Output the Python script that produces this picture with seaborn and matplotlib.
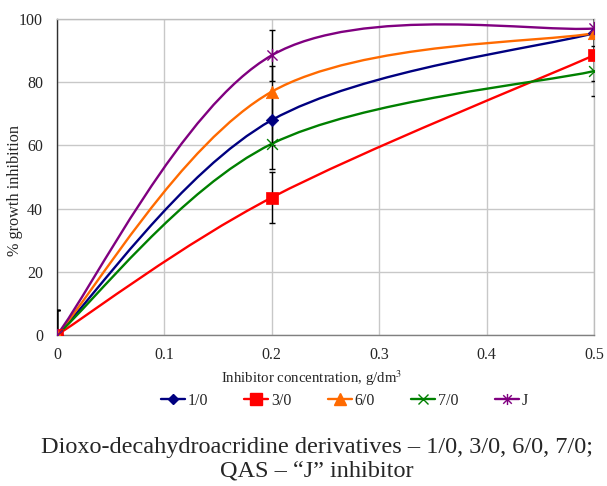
import numpy as np
import pandas as pd
import matplotlib
matplotlib.use("Agg")
import matplotlib.pyplot as plt
from matplotlib.path import Path
from matplotlib.patches import PathPatch
from matplotlib.lines import Line2D
import seaborn as sns

# ---- data ----
concentration = [0.0, 0.2, 0.5]
series_names = ["1/0", "3/0", "6/0", "7/0", "J"]
s_1_0 = [0.0, 68.0, 95.5]
s_3_0 = [0.0, 43.5, 88.5]
s_6_0 = [0.0, 77.0, 95.5]
s_7_0 = [0.0, 60.5, 83.5]
s_J = [0.0, 88.5, 97.0]
error = [8.0, 8.0, 8.0]
x_ticks = [0, 0.1, 0.2, 0.3, 0.4, 0.5]
x_tick_labels = ["0", "0.1", "0.2", "0.3", "0.4", "0.5"]
y_ticks = [0, 20, 40, 60, 80, 100]

values = {"1/0": s_1_0, "3/0": s_3_0, "6/0": s_6_0, "7/0": s_7_0, "J": s_J}
colors = {"1/0": "#000080", "3/0": "#FF0000", "6/0": "#FF6A00", "7/0": "#008000", "J": "#800080"}

star = Path([(-1, -1), (1, 1), (-1, 1), (1, -1), (0, -1.3), (0, 1.3)],
            [Path.MOVETO, Path.LINETO, Path.MOVETO, Path.LINETO, Path.MOVETO, Path.LINETO])
markers = {"1/0": "D", "3/0": "s", "6/0": "^", "7/0": "x", "J": star}
msizes = {"1/0": 40, "3/0": 80, "6/0": 80, "7/0": 60, "J": 90}

rows = []
for n in series_names:
    for x, y in zip(concentration, values[n]):
        rows.append({"series": n, "x": x, "y": y})
df = pd.DataFrame(rows)

sns.set_style("white")
plt.rcParams["font.family"] = ["Liberation Serif", "DejaVu Serif"]
plt.rcParams["mathtext.fontset"] = "stix"

fig = plt.figure(figsize=(6.07, 4.86), dpi=100)
ax = fig.add_axes([0.0939, 0.3107, 0.8847, 0.6503])


def smooth_path(xs, ys):
    pts = np.column_stack([xs, ys]).astype(float)
    n = len(pts)
    verts = [pts[0]]
    codes = [Path.MOVETO]
    for i in range(n - 1):
        p0 = pts[max(i - 1, 0)]
        p1 = pts[i]
        p2 = pts[i + 1]
        p3 = pts[min(i + 2, n - 1)]
        c1 = p1 + (p2 - p0) / 6.0
        c2 = p2 - (p3 - p1) / 6.0
        verts += [c1, c2, p2]
        codes += [Path.CURVE4] * 3
    return Path(verts, codes)


for n in series_names:
    sub = df[df.series == n]
    patch = PathPatch(smooth_path(sub.x.values, sub.y.values), facecolor="none",
                      edgecolor=colors[n], lw=1.7, zorder=3)
    ax.add_patch(patch)
    ax.errorbar(sub.x.values, sub.y.values, yerr=error, fmt="none", ecolor="black",
                elinewidth=1.0, capsize=2.3, capthick=1.0, zorder=4)

for n in series_names:
    sub = df[df.series == n]
    m = markers[n]
    lw = 1.0 if (m == "x" or m is star) else 0.5
    sns.scatterplot(data=sub, x="x", y="y", marker=m, s=msizes[n], color=colors[n],
                    edgecolor=colors[n], linewidth=lw, ax=ax, zorder=5, legend=False)

ax.set_xlim(0, 0.5)
ax.set_ylim(0, 100)
ax.set_xticks(x_ticks)
ax.set_xticklabels(x_tick_labels)
ax.set_yticks(y_ticks)
ax.tick_params(axis="both", labelsize=11.5, length=0)
ax.tick_params(axis="y", pad=10)
ax.tick_params(axis="x", pad=9)
ax.grid(True, color="#c8c8c8", lw=1.0)
ax.set_axisbelow(True)
for s in ["top", "right"]:
    ax.spines[s].set_color("#bdbdbd")
    ax.spines[s].set_linewidth(1.0)
ax.spines["left"].set_color("#303030")
ax.spines["bottom"].set_color("#808080")
ax.spines["left"].set_linewidth(1.0)
ax.spines["bottom"].set_linewidth(1.0)

ax.set_xlabel("Inhibitor concentration, g/dm$^3$", fontsize=10.7)
ax.set_ylabel("% growth inhibition", fontsize=11.7)
ax.xaxis.set_label_coords(0.475, -0.105)
ax.yaxis.set_label_coords(-0.063, 0.456)

handles = []
for n in series_names:
    m = markers[n]
    ms = {"1/0": 5, "3/0": 8, "6/0": 8, "7/0": 7, "J": 8}[n]
    handles.append(Line2D([0], [0], color=colors[n], lw=1.7, marker=m, markersize=ms,
                          markerfacecolor=colors[n], markeredgecolor=colors[n], markeredgewidth=1.0))
fig.legend(handles, series_names, loc="center", bbox_to_anchor=(0.567, 0.175), ncol=5,
           frameon=False, fontsize=11.5, handlelength=1.5, handletextpad=0.15, columnspacing=2.3)

fig.text(0.522, 0.055, "Dioxo-decahydroacridine derivatives \u2013 1/0, 3/0, 6/0, 7/0;\nQAS \u2013 \u201cJ\u201d inhibitor",
         ha="center", va="center", fontsize=17.5, linespacing=1.2)

fig.savefig("out.png", dpi=100)
